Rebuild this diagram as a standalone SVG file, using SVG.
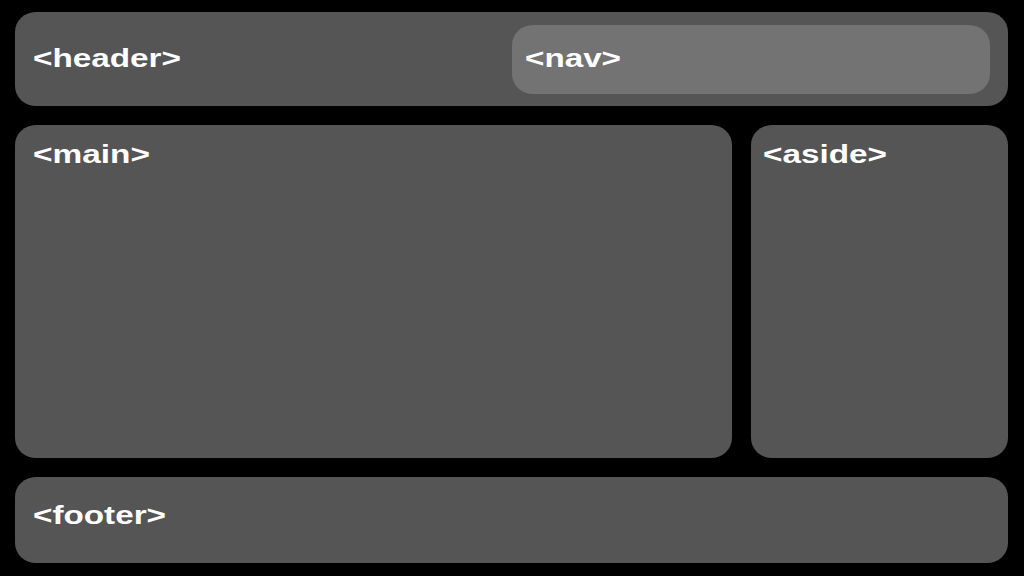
<svg xmlns="http://www.w3.org/2000/svg" width="1024" height="576" viewBox="0 0 1024 576">
<style>
.box{fill:#555555}
.nav{fill:#737373}
.lbl{font-family:"Liberation Sans",Arial,sans-serif;font-weight:bold;font-size:25px;fill:#ffffff}
</style>
<rect x="0" y="0" width="1024" height="576" fill="#000000"/>
<g id="header">
<rect class="box" x="15" y="12" width="993" height="94" rx="21" ry="20"/>
<text class="lbl" x="33" y="67" textLength="148" lengthAdjust="spacingAndGlyphs">&lt;header&gt;</text>
</g>
<g id="nav">
<rect class="nav" x="512" y="25" width="478" height="69" rx="21" ry="20"/>
<text class="lbl" x="525" y="67" textLength="96" lengthAdjust="spacingAndGlyphs">&lt;nav&gt;</text>
</g>
<g id="main">
<rect class="box" x="15" y="125" width="717" height="333" rx="21" ry="20"/>
<text class="lbl" x="33" y="163" textLength="117" lengthAdjust="spacingAndGlyphs">&lt;main&gt;</text>
</g>
<g id="aside">
<rect class="box" x="751" y="125" width="257" height="333" rx="21" ry="20"/>
<text class="lbl" x="763" y="163" textLength="124" lengthAdjust="spacingAndGlyphs">&lt;aside&gt;</text>
</g>
<g id="footer">
<rect class="box" x="15" y="477" width="993" height="86" rx="21" ry="20"/>
<text class="lbl" x="33" y="524" textLength="133" lengthAdjust="spacingAndGlyphs">&lt;footer&gt;</text>
</g>
<g id="connectors"></g>
</svg>
